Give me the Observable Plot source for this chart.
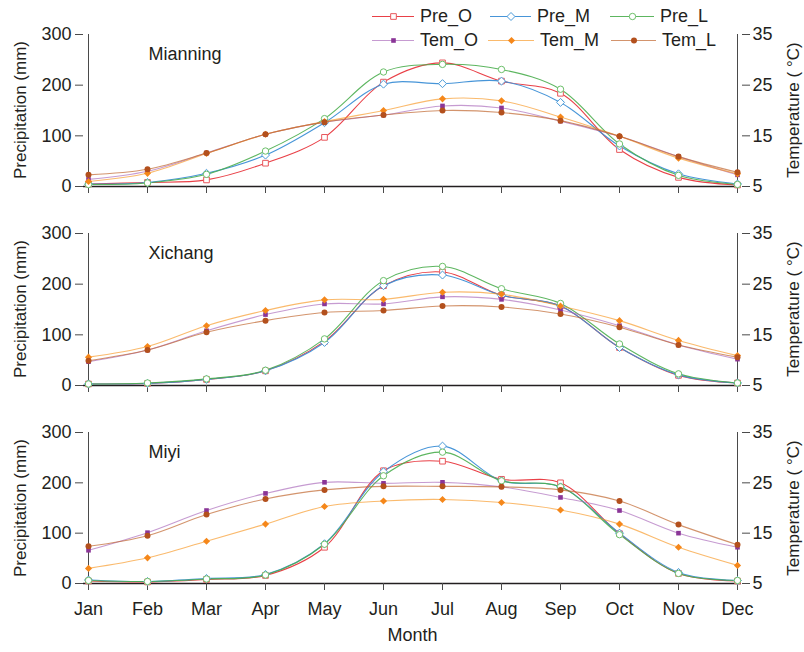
<!DOCTYPE html>
<html><head><meta charset="utf-8">
<script src="https://cdn.jsdelivr.net/npm/d3@7"></script>
<script src="https://cdn.jsdelivr.net/npm/@observablehq/plot@0.6"></script>
<style>
body{margin:0;background:#fff;font-family:"Liberation Sans",Arial,sans-serif;color:#231f20}
#wrap{position:relative;width:804px;height:652px;overflow:hidden;background:#fff}
.panel{position:absolute;left:0}
.lg{position:absolute;display:flex;align-items:center;font-size:18px;line-height:18px;z-index:5;white-space:nowrap}
.lg svg{display:block;margin-right:6px}
.ytitle{position:absolute;width:200px;height:20px;line-height:20px;text-align:center;font-size:17px;transform:rotate(-90deg);white-space:nowrap;z-index:4}
</style></head><body><div id="wrap"></div>
<script>
const months = ["Jan","Feb","Mar","Apr","May","Jun","Jul","Aug","Sep","Oct","Nov","Dec"];
const stations = ["Mianning","Xichang","Miyi"];
const precipTicks = [0,100,200,300];
const tempTicks = [5,15,25,35];
const leftTitle = "Precipitation (mm)";
const rightTitle = "Temperature ( °C)";
const xTitle = "Month";

// Mianning
const mianningPreO = [5, 8, 13, 46, 97, 206, 244, 208, 184, 73, 18, 3];
const mianningPreM = [5, 8, 26, 62, 126, 202, 203, 208, 166, 80, 25, 5];
const mianningPreL = [4, 7, 24, 70, 134, 226, 241, 231, 192, 84, 22, 4];
const mianningTemO = [6.4, 8.0, 11.6, 15.3, 17.7, 19.1, 20.9, 20.5, 17.9, 14.9, 10.9, 7.3];
const mianningTemM = [6.0, 7.6, 11.5, 15.3, 17.8, 20.0, 22.3, 21.9, 18.7, 14.9, 10.6, 7.5];
const mianningTemL = [7.3, 8.4, 11.6, 15.3, 17.7, 19.1, 20.0, 19.6, 18.0, 14.9, 10.9, 7.8];
// Xichang
const xichangPreO = [3, 4, 12, 29, 87, 197, 224, 178, 157, 75, 20, 5];
const xichangPreM = [3, 4, 12, 29, 85, 197, 218, 178, 157, 75, 21, 5];
const xichangPreL = [3, 5, 13, 30, 92, 207, 235, 191, 162, 82, 23, 5];
const xichangTemO = [9.7, 12.0, 15.8, 19.0, 21.1, 21.1, 22.5, 22.0, 19.9, 16.8, 13.0, 10.2];
const xichangTemM = [10.6, 12.7, 16.8, 19.8, 21.9, 22.0, 23.4, 23.0, 20.7, 17.8, 13.9, 10.9];
const xichangTemL = [9.9, 12.0, 15.5, 17.8, 19.4, 19.8, 20.7, 20.5, 19.1, 16.5, 13.0, 10.6];
// Miyi
const miyiPreO = [5, 3, 8, 16, 72, 224, 243, 207, 200, 99, 20, 5];
const miyiPreM = [7, 4, 10, 18, 79, 222, 273, 204, 192, 100, 22, 6];
const miyiPreL = [6, 4, 9, 17, 78, 214, 261, 204, 192, 97, 20, 6];
const miyiTemO = [11.6, 15.1, 19.5, 22.9, 25.1, 24.9, 25.1, 24.2, 22.1, 19.5, 15.0, 12.2];
const miyiTemM = [8.0, 10.1, 13.4, 16.8, 20.3, 21.4, 21.7, 21.1, 19.6, 16.8, 12.2, 8.6];
const miyiTemL = [12.4, 14.5, 18.7, 21.8, 23.6, 24.3, 24.3, 24.2, 23.6, 21.4, 16.7, 12.7];

const seriesNames = ["Pre_O","Pre_M","Pre_L","Tem_O","Tem_M","Tem_L"];
const stationSeries = {
  Mianning: [mianningPreO, mianningPreM, mianningPreL, mianningTemO, mianningTemM, mianningTemL],
  Xichang: [xichangPreO, xichangPreM, xichangPreL, xichangTemO, xichangTemM, xichangTemL],
  Miyi: [miyiPreO, miyiPreM, miyiPreL, miyiTemO, miyiTemM, miyiTemL]
};

const styles = {
  Pre_O: {line:"#e8363d", lineOpacity:0.95, symbol:"square", r:3.2, stroke:"#e8575c", fill:"#fff"},
  Pre_M: {line:"#3d8fd6", lineOpacity:0.95, symbol:"diamond2", r:3.6, stroke:"#4a9ad8", fill:"#fff"},
  Pre_L: {line:"#4bae4f", lineOpacity:0.9, symbol:"circle", r:3.2, stroke:"#6cbf6a", fill:"#fff"},
  Tem_O: {line:"#a866b8", lineOpacity:0.65, symbol:"square", r:2.6, stroke:"none", fill:"#8a3597"},
  Tem_M: {line:"#f7951f", lineOpacity:0.65, symbol:"diamond2", r:3.2, stroke:"none", fill:"#f5871a"},
  Tem_L: {line:"#c0662f", lineOpacity:0.7, symbol:"circle", r:3.0, stroke:"none", fill:"#b3501d"}
};

// temperature axis (°C) is drawn on the precipitation scale: 5..35 °C  <->  0..300 mm
const tempToPrecip = d3.scaleLinear().domain([5,35]).range([0,300]);

const layout = [
  {top:0, height:200, marginTop:34, marginBottom:14, labels:false},
  {top:200, height:200, marginTop:33, marginBottom:15, labels:false},
  {top:400, height:252, marginTop:32, marginBottom:69, labels:true}
];

const wrap = document.getElementById("wrap");
const font = '"Liberation Sans", Arial, sans-serif';

function addYTitle(text, cx, cy) {
  const d = document.createElement("div");
  d.className = "ytitle";
  d.textContent = text;
  d.style.left = (cx - 100) + "px";
  d.style.top = (cy - 10) + "px";
  wrap.appendChild(d);
}

stations.forEach((st, k) => {
  const L = layout[k];
  const rows = [];
  stationSeries[st].forEach((vals, si) => {
    const name = seriesNames[si];
    const isTemp = name.startsWith("Tem");
    vals.forEach((v, i) => rows.push({series:name, month:months[i], value:v, isTemp}));
  });
  const yOf = d => d.isTemp ? tempToPrecip(d.value) : d.value;
  const marks = [
    Plot.ruleX([months[0], months[11]], {stroke:"#4a4a4a", strokeWidth:1}),
    Plot.ruleY([0], {stroke:"#231f20", strokeWidth:1.6}),
    Plot.axisY({anchor:"left", ticks:precipTicks, tickSize:8, tickPadding:4, label:null, fontSize:18, stroke:"#4a4a4a"}),
    Plot.axisY({anchor:"right", ticks:tempTicks.map(t => tempToPrecip(t)), tickFormat:(d) => String(Math.round(tempToPrecip.invert(d))), tickSize:8, tickPadding:3, label:null, fontSize:18, stroke:"#4a4a4a"}),
    Plot.axisX({anchor:"bottom", ticks:months, tickSize:7, tickPadding:12, label:null, fontSize:18, stroke:"#4a4a4a", tickFormat: L.labels ? (d => d) : (() => "")}),
    Plot.text([st], {frameAnchor:"top-left", dx:65, dy:13, textAnchor:"start", fontSize:18, fill:"#231f20"})
  ];
  seriesNames.forEach(name => {
    const s = styles[name];
    const data = rows.filter(d => d.series === name);
    marks.push(Plot.line(data, {x:"month", y:yOf, stroke:s.line, strokeOpacity:s.lineOpacity, strokeWidth:1.1, curve:"catmull-rom"}));
  });
  seriesNames.forEach(name => {
    const s = styles[name];
    const data = rows.filter(d => d.series === name);
    marks.push(Plot.dot(data, {x:"month", y:yOf, symbol:s.symbol, r:s.r, stroke:s.stroke, fill:s.fill, strokeWidth:1}));
  });
  if (L.labels) marks.push(Plot.text([xTitle], {frameAnchor:"bottom", dy:57, fontSize:18, fill:"#231f20"}));

  const svg = Plot.plot({
    width:804, height:L.height,
    marginLeft:83, marginRight:63, marginTop:L.marginTop, marginBottom:L.marginBottom,
    style:{fontFamily:font, fontSize:"18px", color:"#231f20", background:"transparent", overflow:"visible"},
    x:{type:"point", domain:months, padding:0},
    y:{domain:[0,300]},
    marks
  });
  svg.classList.add("panel");
  svg.style.top = L.top + "px";
  wrap.appendChild(svg);

  const mid = L.top + L.marginTop + (L.height - L.marginTop - L.marginBottom) / 2;
  addYTitle(leftTitle, 21, mid);
  addYTitle(rightTitle, 794, mid);
});

// legend
const legendPos = {
  Pre_O:{x:372, y:16, tx:420}, Pre_M:{x:490, y:16, tx:537}, Pre_L:{x:610, y:16, tx:660},
  Tem_O:{x:372, y:40, tx:420}, Tem_M:{x:488, y:40, tx:540}, Tem_L:{x:611, y:40, tx:662}
};
seriesNames.forEach(name => {
  const s = styles[name], p = legendPos[name];
  const div = document.createElement("div");
  div.className = "lg";
  div.style.left = p.x + "px";
  div.style.top = (p.y - 9) + "px";
  const w = p.tx - p.x - 6;
  const sym = Plot.plot({
    width:w, height:18, margin:0,
    x:{domain:[0,1], range:[0,w]}, y:{domain:[0,1], range:[18,0]},
    axis:null,
    style:{background:"transparent", overflow:"visible"},
    marks:[
      Plot.ruleY([0.5], {stroke:s.line, strokeOpacity:s.lineOpacity, strokeWidth:1.1}),
      Plot.dot([0.5], {x:d => d, y:0.5, symbol:s.symbol, r:s.r, stroke:s.stroke, fill:s.fill, strokeWidth:1})
    ]
  });
  div.appendChild(sym);
  const t = document.createElement("span");
  t.textContent = name;
  div.appendChild(t);
  wrap.appendChild(div);
});
</script></body></html>
